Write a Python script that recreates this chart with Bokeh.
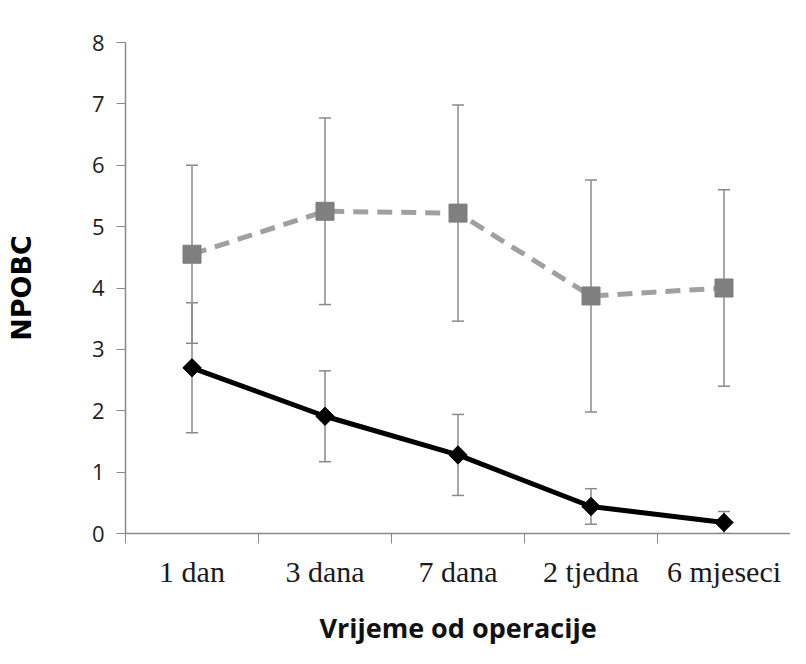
import math
from bokeh.plotting import figure
from bokeh.models import Range1d, FixedTicker, Whisker, TeeHead, ColumnDataSource
from bokeh.embed import file_html
from bokeh.resources import INLINE

categories = ["1 dan", "3 dana", "7 dana", "2 tjedna", "6 mjeseci"]
gray_mean = [4.55, 5.25, 5.22, 3.87, 4.00]
gray_err = [1.45, 1.52, 1.76, 1.89, 1.60]
black_mean = [2.70, 1.91, 1.28, 0.44, 0.18]
black_err = [1.06, 0.74, 0.66, 0.29, 0.18]
y_ticks = [0, 1, 2, 3, 4, 5, 6, 7, 8]
x_title = "Vrijeme od operacije"
y_title = "NPOBC"

xs = [i + 0.5 for i in range(len(categories))]
bounds = list(range(len(categories) + 1))

axis_col = "#8a8a8a"
err_col = "#8a8a8a"

p = figure(width=790, height=648, output_backend="svg", toolbar_location=None,
           x_range=Range1d(0, len(categories)), y_range=Range1d(0, 8),
           min_border_left=125, min_border_right=0, min_border_top=42,
           min_border_bottom=114)
p.outline_line_color = None
p.xgrid.visible = False
p.ygrid.visible = False

gsrc = ColumnDataSource(dict(x=xs, y=gray_mean,
                             upper=[m + e for m, e in zip(gray_mean, gray_err)],
                             lower=[m - e for m, e in zip(gray_mean, gray_err)]))
bsrc = ColumnDataSource(dict(x=xs, y=black_mean,
                             upper=[m + e for m, e in zip(black_mean, black_err)],
                             lower=[m - e for m, e in zip(black_mean, black_err)]))

for src in (gsrc, bsrc):
    w = Whisker(base="x", upper="upper", lower="lower", source=src,
                line_color=err_col, line_width=1.5, level="underlay",
                upper_head=TeeHead(size=12, line_color=err_col, line_width=1.5),
                lower_head=TeeHead(size=12, line_color=err_col, line_width=1.5))
    p.add_layout(w)

p.line("x", "y", source=gsrc, line_color="#a0a0a0", line_width=5,
       line_dash="15 9")
p.scatter("x", "y", source=gsrc, marker="square", size=18,
          fill_color="#7f7f7f", line_color="#7f7f7f")

p.line("x", "y", source=bsrc, line_color="black", line_width=5)
p.scatter("x", "y", source=bsrc, marker="square", angle=math.pi / 4, size=13,
          fill_color="black", line_color="black")

# x axis
xa = p.xaxis[0]
xa.ticker = FixedTicker(ticks=xs, minor_ticks=bounds)
xa.major_label_overrides = {x: c for x, c in zip(xs, categories)}
xa.major_tick_line_color = None
xa.major_tick_out = 0
xa.major_tick_in = 0
xa.minor_tick_out = 10
xa.minor_tick_in = 0
xa.minor_tick_line_color = axis_col
xa.axis_line_color = axis_col
xa.axis_line_width = 1.5
xa.major_label_text_font = "Liberation Serif"
xa.major_label_text_font_size = "30px"
xa.major_label_text_color = "#1a1a1a"
xa.major_label_standoff = 11
xa.axis_label = x_title
xa.axis_label_text_font = "Open Sans"
xa.axis_label_text_font_style = "bold"
xa.axis_label_text_font_size = "27px"
xa.axis_label_text_color = "#111111"
xa.axis_label_standoff = 18

# y axis
ya = p.yaxis[0]
ya.ticker = FixedTicker(ticks=y_ticks, minor_ticks=[])
ya.major_tick_out = 9
ya.major_tick_in = 0
ya.major_tick_line_color = axis_col
ya.axis_line_color = axis_col
ya.axis_line_width = 1.5
ya.major_label_text_font = "Open Sans"
ya.major_label_text_font_size = "22px"
ya.major_label_text_color = "#1e1e1e"
ya.major_label_standoff = 12
ya.axis_label = y_title
ya.axis_label_text_font = "DejaVu Sans"
ya.axis_label_text_font_style = "bold"
ya.axis_label_text_font_size = "27px"
ya.axis_label_text_color = "#000000"
ya.axis_label_standoff = 52

open("out.html", "w").write(file_html(p, INLINE))
